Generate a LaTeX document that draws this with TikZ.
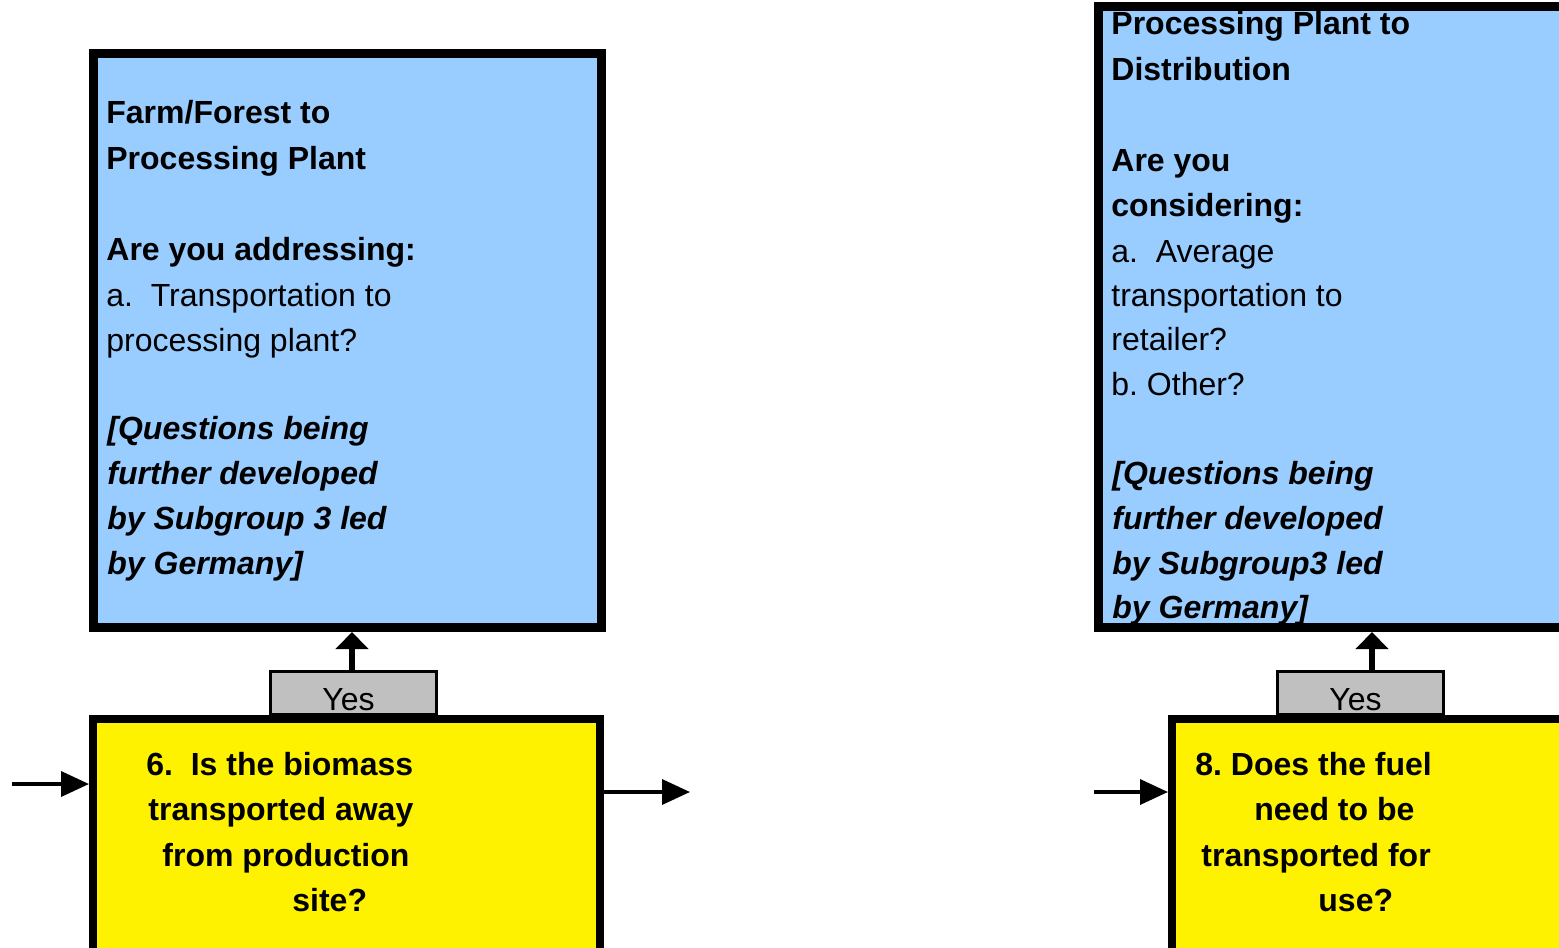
\documentclass[tikz,border=0pt]{standalone}
\usepackage{fontspec}
\setmainfont{Liberation Sans}
\usetikzlibrary{arrows.meta}
\definecolor{boxblue}{HTML}{99CCFF}
\definecolor{qyellow}{HTML}{FFF200}
\definecolor{yesgray}{HTML}{C0C0C0}
\begin{document}
\begin{tikzpicture}[x=0.5pt,y=-0.5pt,
  bluebox/.style={draw=black,line width=4.5pt,fill=boxblue,inner sep=0pt,minimum width=254pt},
  qbox/.style={draw=black,line width=4pt,fill=qyellow,inner sep=0pt,minimum width=253.5pt,minimum height=138.5pt},
  yesbox/.style={draw=black,line width=1.5pt,fill=yesgray,inner sep=0pt,minimum width=83pt,minimum height=21.5pt,
    text height=17pt,text depth=0pt,font=\fontsize{16}{19}\selectfont},
  txt/.style={inner sep=0pt,anchor=base west,font=\fontsize{16}{19}\selectfont},
  arrside/.style={line width=1.8pt,-{Triangle[length=14pt,width=12.5pt]}},
  arryes/.style={line width=3pt,-{Triangle[length=8.5pt,width=16pt]}},
]
\clip (0,0) rectangle (1559,948);
% blue boxes
\node[bluebox,minimum height=287pt] (b6) at (347.5,340.5) {};
\node[bluebox,minimum height=310.5pt] (b8) at (1352.5,317) {};
% yes boxes
\node[yesbox] (yes6) at (353.5,693) {\hspace*{-5pt}Yes};
\node[yesbox] (yes8) at (1360.5,693) {\hspace*{-5pt}Yes};
% yellow boxes
\node[qbox] (y6) at (346.5,857.5) {};
\node[qbox] (y8) at (1425.5,857.5) {};
% connectors
\draw[arryes] ([xshift=-0.75pt]yes6.north) -- ([xshift=-0.75pt]yes6.north |- b6.south);
\draw[arryes] ([xshift=5.75pt]yes8.north) -- ([xshift=5.75pt]yes8.north |- b8.south);
\coordinate (in6) at (12,784);
\draw[arrside] (in6) -- (in6 -| y6.west);
\coordinate (out6) at (690,792);
\draw[arrside] ([xshift=-3.5pt]y6.east |- out6) -- (out6);
\coordinate (in8) at (1094,792);
\draw[arrside] (in8) -- (in8 -| y8.west);
% left blue text
\node[txt] (b6l0) at (106,123) {\bfseries Farm/Forest to};
\node[txt] (b6l1) at (106,169) {\bfseries Processing Plant};
\node[txt] (b6l3) at (106,260) {\bfseries Are you addressing:};
\node[txt] (b6l4) at (106,306) {a.\ \ Transportation to};
\node[txt] (b6l5) at (106,351) {processing plant?};
\node[txt] (b6l7) at (107,439) {\bfseries\itshape [Questions being};
\node[txt] (b6l8) at (107,484) {\bfseries\itshape further developed};
\node[txt] (b6l9) at (107,529) {\bfseries\itshape by Subgroup 3 led};
\node[txt] (b6l10) at (107,574) {\bfseries\itshape by Germany]};
% right blue text
\node[txt] (b8l0) at (1111,34) {\bfseries Processing Plant to};
\node[txt] (b8l1) at (1111,80) {\bfseries Distribution};
\node[txt] (b8l3) at (1111,171) {\bfseries Are you};
\node[txt] (b8l4) at (1111,216) {\bfseries considering:};
\node[txt] (b8l5) at (1111,262) {a.\ \ Average};
\node[txt] (b8l6) at (1111,306) {transportation to};
\node[txt] (b8l7) at (1111,350) {retailer?};
\node[txt] (b8l8) at (1111,395) {b.\ Other?};
\node[txt] (b8l10) at (1112,484) {\bfseries\itshape [Questions being};
\node[txt] (b8l11) at (1112,529) {\bfseries\itshape further developed};
\node[txt] (b8l12) at (1112,574) {\bfseries\itshape by Subgroup3 led};
\node[txt] (b8l13) at (1112,618) {\bfseries\itshape by Germany]};
% left yellow text
\node[txt] (y6l0) at (146,775) {\bfseries 6.\ \ Is the biomass};
\node[txt] (y6l1) at (148,820) {\bfseries transported away};
\node[txt] (y6l2) at (162,866) {\bfseries from production};
\node[txt] (y6l3) at (292,911) {\bfseries site?};
% right yellow text
\node[txt] (y8l0) at (1195,775) {\bfseries 8.\ Does the fuel};
\node[txt] (y8l1) at (1254,820) {\bfseries need to be};
\node[txt] (y8l2) at (1201,866) {\bfseries transported for};
\node[txt] (y8l3) at (1318,911) {\bfseries use?};
\end{tikzpicture}
\end{document}
